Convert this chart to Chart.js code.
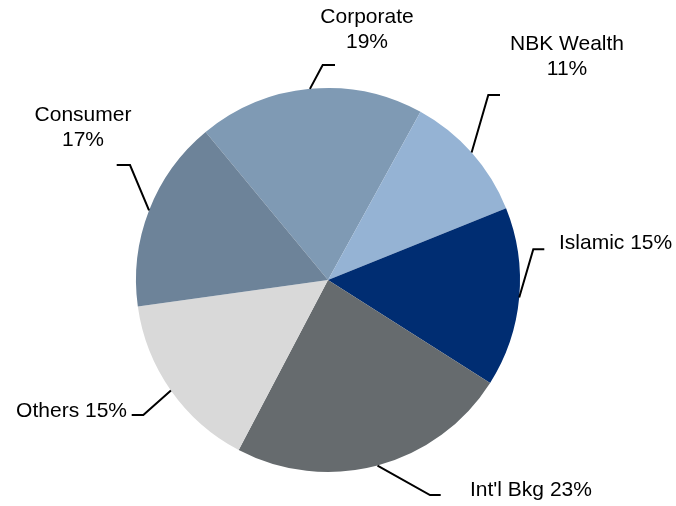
<!DOCTYPE html>
<html>
<head>
<meta charset="utf-8">
<script src="https://cdn.jsdelivr.net/npm/chart.js@4"></script>
<style>
  html, body { margin: 0; padding: 0; background: #fff; }
  #wrap { width: 676px; height: 506px; position: relative; }
</style>
</head>
<body>
<div id="wrap"><canvas id="pie"></canvas></div>
<script>
// --- data ---
const segments = ['Corporate', 'NBK Wealth', 'Islamic', "Int'l Bkg", 'Others', 'Consumer'];
const shares = [19.0, 10.9, 15.1, 23.7, 15.1, 16.2];
const pctText = ['19%', '11%', '15%', '23%', '15%', '17%'];
const colors = ['#7f9ab4', '#95b3d4', '#002d72', '#666b6e', '#d9d9d9', '#6d8399'];

// where each label sits: elbow of the leader, end of the leader, text anchor
const labelLayout = [
  { elbow: [322.7, 65], end: [335, 65], text: [367, 17], align: 'center', twoLines: true },
  { elbow: [488.3, 95], end: [500, 95], text: [567, 44], align: 'center', twoLines: true },
  { elbow: [533.3, 249.3], end: [544.3, 249.3], text: [559, 243], align: 'left' },
  { elbow: [430, 495], end: [440.7, 495], text: [470, 490], align: 'left' },
  { elbow: [143.3, 415], end: [131.7, 415], text: [127, 411], align: 'right' },
  { elbow: [130, 165], end: [116.7, 165], text: [83, 115], align: 'center', twoLines: true }
];

const leaderLabels = {
  id: 'leaderLabels',
  afterDraw(chart) {
    const ctx = chart.ctx;
    const arcs = chart.getDatasetMeta(0).data;
    ctx.save();
    ctx.strokeStyle = '#000';
    ctx.lineWidth = 2;
    ctx.fillStyle = '#000';
    ctx.font = '21px "Liberation Sans", Arial, sans-serif';
    ctx.textBaseline = 'middle';
    arcs.forEach((arc, i) => {
      const p = arc.getProps(['x', 'y', 'startAngle', 'endAngle', 'outerRadius'], true);
      const mid = (p.startAngle + p.endAngle) / 2;
      const sx = p.x + Math.cos(mid) * p.outerRadius;
      const sy = p.y + Math.sin(mid) * p.outerRadius;
      const L = labelLayout[i];
      ctx.beginPath();
      ctx.moveTo(sx, sy);
      ctx.lineTo(L.elbow[0], L.elbow[1]);
      ctx.lineTo(L.end[0], L.end[1]);
      ctx.stroke();
      ctx.textAlign = L.align;
      if (L.twoLines) {
        ctx.fillText(segments[i], L.text[0], L.text[1]);
        ctx.fillText(pctText[i], L.text[0], L.text[1] + 25);
      } else {
        ctx.fillText(segments[i] + ' ' + pctText[i], L.text[0], L.text[1]);
      }
    });
    ctx.restore();
  }
};

new Chart(document.getElementById('pie').getContext('2d'), {
  type: 'pie',
  data: {
    labels: segments,
    datasets: [{ data: shares, backgroundColor: colors, borderWidth: 0 }]
  },
  options: {
    responsive: true,
    maintainAspectRatio: false,
    animation: false,
    rotation: -39.6,
    layout: { padding: { top: 88, bottom: 34, left: 136, right: 156 } },
    plugins: { legend: { display: false }, tooltip: { enabled: false } }
  },
  plugins: [leaderLabels]
});
</script>
</body>
</html>
